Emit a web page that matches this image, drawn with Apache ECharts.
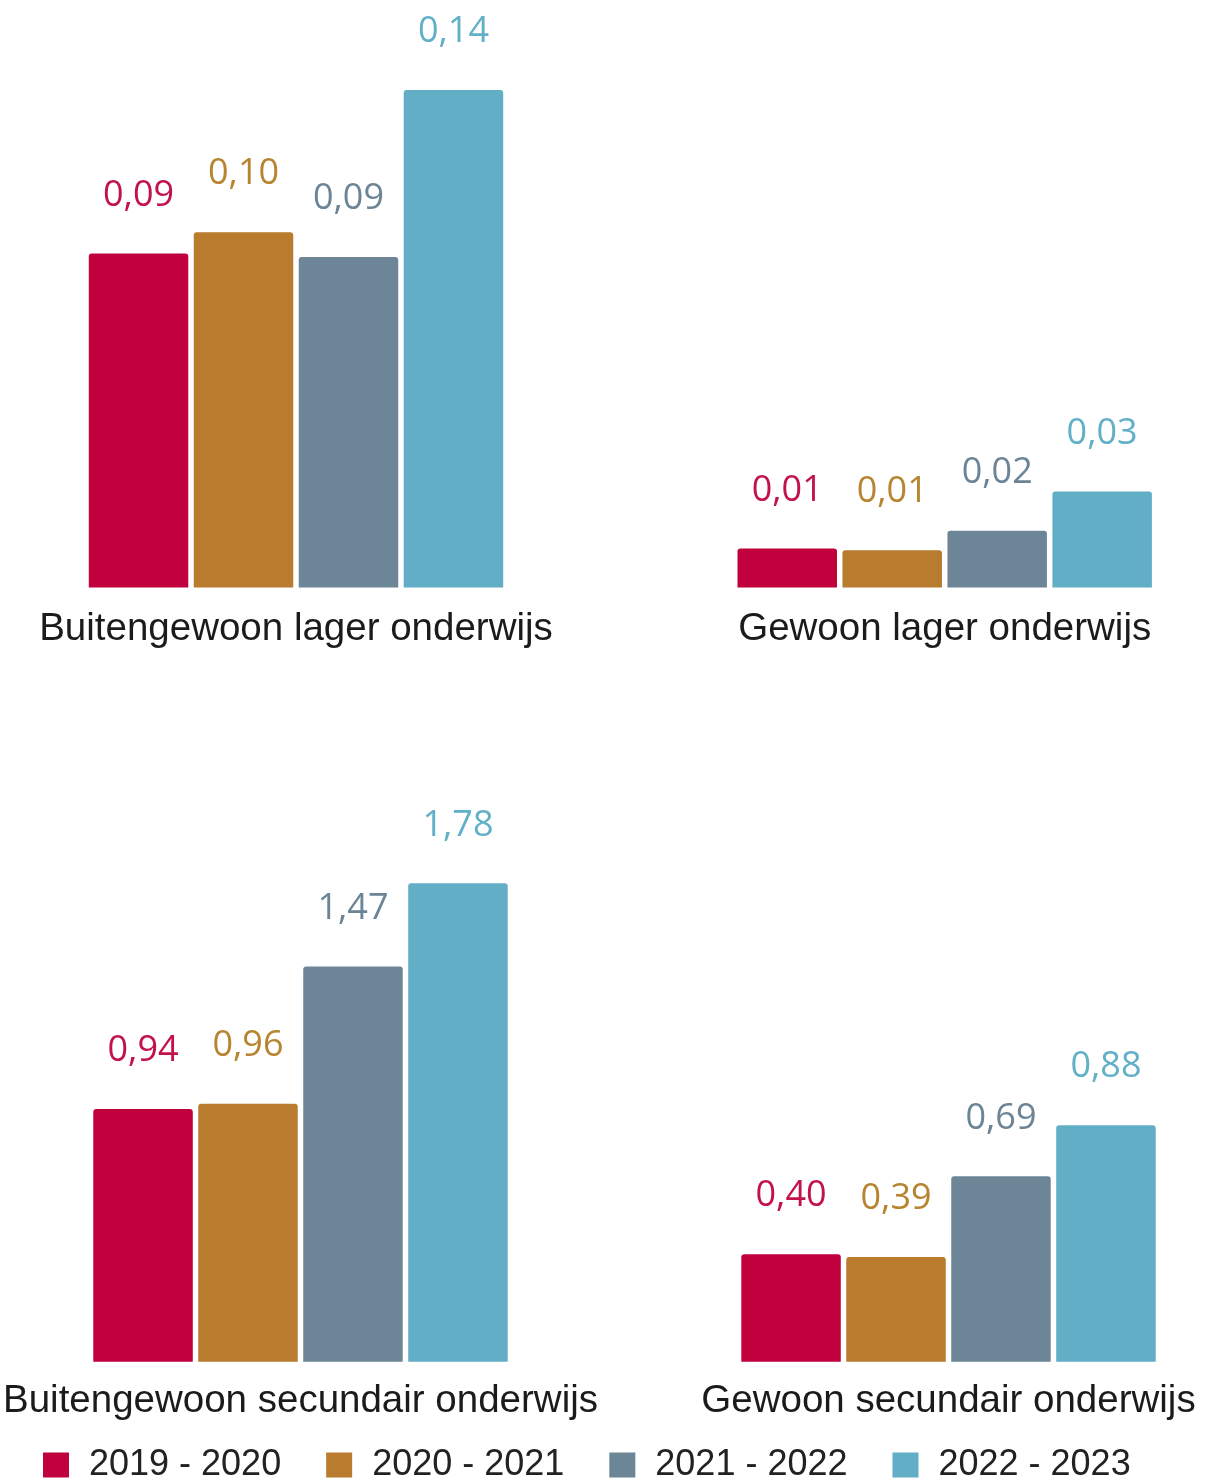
<!DOCTYPE html>
<html>
<head>
<meta charset="utf-8">
<script src="https://cdn.jsdelivr.net/npm/echarts@6/dist/echarts.min.js"></script>
<style>
html,body{margin:0;padding:0;background:#fff;}
#chart{width:1229px;height:1481px;}
</style>
</head>
<body>
<div id="chart"></div>
<script>
// ---- data ----
const years = ['2019 - 2020', '2020 - 2021', '2021 - 2022', '2022 - 2023'];
const lagerCategories = ['Buitengewoon lager onderwijs', 'Gewoon lager onderwijs'];
const secundairCategories = ['Buitengewoon secundair onderwijs', 'Gewoon secundair onderwijs'];

const lager_2019_2020 = [0.094, 0.011];
const lager_2020_2021 = [0.100, 0.0105];
const lager_2021_2022 = [0.093, 0.016];
const lager_2022_2023 = [0.140, 0.027];

const secundair_2019_2020 = [0.94, 0.40];
const secundair_2020_2021 = [0.96, 0.39];
const secundair_2021_2022 = [1.47, 0.69];
const secundair_2022_2023 = [1.78, 0.88];

// ---- style ----
const barColors = ['#C1003E', '#B97B2D', '#6C8697', '#61AEC6'];
const labelColors = ['#C3124A', '#B7842F', '#6C8596', '#62B0C8'];

const lagerSeries = [lager_2019_2020, lager_2020_2021, lager_2021_2022, lager_2022_2023];
const secundairSeries = [secundair_2019_2020, secundair_2020_2021, secundair_2021_2022, secundair_2022_2023];

function fmt(p) { return p.value.toFixed(2).replace('.', ','); }

function makeSeries(dataArr, axisIndex) {
  return dataArr.map((d, i) => ({
    name: years[i],
    type: 'bar',
    xAxisIndex: axisIndex,
    yAxisIndex: axisIndex,
    data: d,
    barWidth: 99.5,
    barGap: '5.5%',
    itemStyle: { color: barColors[i], borderRadius: [3, 3, 0, 0] },
    label: {
      show: true,
      position: 'top',
      distance: 40,
      formatter: fmt,
      color: labelColors[i],
      fontFamily: '"Open Sans", "Noto Sans", sans-serif',
      fontSize: 36
    },
    emphasis: { disabled: true },
    animation: false
  }));
}

const catLabel = {
  interval: 0,
  margin: 22,
  color: '#1b1b1b',
  fontFamily: '"Liberation Sans", Arial, sans-serif',
  fontSize: 38.5
};

const chart = echarts.init(document.getElementById('chart'));
chart.setOption({
  animation: false,
  backgroundColor: '#ffffff',
  legend: {
    left: 43,
    top: 1447,
    padding: 0,
    itemWidth: 26,
    itemHeight: 25,
    itemGap: 45,
    icon: 'rect',
    data: years,
    textStyle: {
      color: '#222',
      fontFamily: '"Liberation Sans", Arial, sans-serif',
      fontSize: 36,
      padding: [0, 0, 0, 15]
    },
    selectedMode: false
  },
  grid: [
    { left: 296, width: 648.7, top: 90, height: 497.5 },
    { left: 296, width: 652.5, top: 883.3, height: 478.4 }
  ],
  xAxis: [
    { type: 'category', gridIndex: 0, boundaryGap: false, data: lagerCategories, axisLine: { show: false }, axisTick: { show: false }, axisLabel: catLabel },
    { type: 'category', gridIndex: 1, boundaryGap: false, data: secundairCategories, axisLine: { show: false }, axisTick: { show: false }, axisLabel: Object.assign({}, catLabel, { margin: 20 }) }
  ],
  yAxis: [
    { type: 'value', gridIndex: 0, min: 0, max: 'dataMax', show: false, splitLine: { show: false } },
    { type: 'value', gridIndex: 1, min: 0, max: 'dataMax', show: false, splitLine: { show: false } }
  ],
  series: makeSeries(lagerSeries, 0).concat(makeSeries(secundairSeries, 1))
});
</script>
</body>
</html>
